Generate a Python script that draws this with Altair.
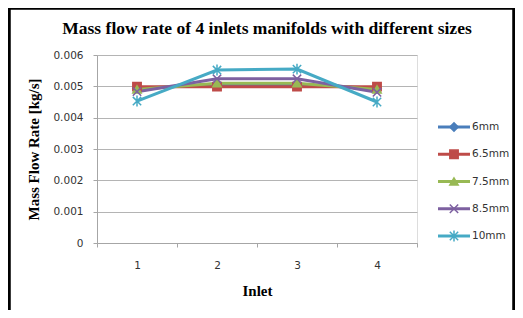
import altair as alt
import pandas as pd

# ---- data ----
series_names = ["6mm", "6.5mm", "7.5mm", "8.5mm", "10mm"]
inlets = [1, 2, 3, 4]
flow_6mm = [0.00494, 0.00505, 0.00505, 0.00494]
flow_6_5mm = [0.00499, 0.00499, 0.00499, 0.00499]
flow_7_5mm = [0.00490, 0.00510, 0.00510, 0.00490]
flow_8_5mm = [0.00483, 0.00524, 0.00524, 0.00481]
flow_10mm = [0.00453, 0.00552, 0.00555, 0.00450]
y_ticks = [0, 0.001, 0.002, 0.003, 0.004, 0.005, 0.006]
chart_title = "Mass flow rate of 4 inlets manifolds with different sizes"

colors = ["#4A7EBB", "#BE4B48", "#98B954", "#7D60A0", "#46AAC5"]
shapes = [
    "diamond",
    "square",
    "triangle-up",
    "M-1,-1L1,1M-1,1L1,-1",
    "M-1,-1L1,1M-1,1L1,-1M0,-1.3L0,1.3",
]

rows = []
for name, vals in zip(series_names, [flow_6mm, flow_6_5mm, flow_7_5mm, flow_8_5mm, flow_10mm]):
    for inlet, v in zip(inlets, vals):
        rows.append({"series": name, "inlet": inlet, "value": v})
df = pd.DataFrame(rows)
leg_df = pd.DataFrame({"series": series_names})
title_df = pd.DataFrame({"t": [chart_title]})

color_scale = alt.Scale(domain=series_names, range=colors)
shape_scale = alt.Scale(domain=series_names, range=shapes)

serif = "Liberation Serif"
sans = "DejaVu Sans"

x_enc = alt.X(
    "inlet:O",
    scale=alt.Scale(type="band", paddingInner=0, paddingOuter=0),
    axis=alt.Axis(
        title="Inlet", labelAngle=0, tickBand="extent", tickSize=4,
        tickColor="#A6A6A6", domainColor="#A6A6A6", grid=False,
        labelFont=sans, labelFontSize=10.5, labelColor="#333333", labelPadding=13,
        titleFont=serif, titleFontSize=15, titleFontWeight="bold", titleColor="#000000",
        titlePadding=13,
    ),
)
y_enc = alt.Y(
    "value:Q",
    scale=alt.Scale(domain=[0, 0.006], nice=False),
    axis=alt.Axis(
        title="Mass Flow Rate [kg/s]", values=y_ticks,
        labelExpr="datum.value == 0 ? '0' : format(datum.value, '.3f')",
        tickSize=4, tickColor="#A6A6A6", domainColor="#A6A6A6",
        gridColor="#B4B4B4", gridWidth=1,
        labelFont=sans, labelFontSize=10.5, labelColor="#333333", labelPadding=10,
        titleFont=serif, titleFontSize=15, titleFontWeight="bold", titleColor="#000000",
        titlePadding=11,
    ),
)

base = alt.Chart(df).encode(
    x=x_enc,
    y=y_enc,
    color=alt.Color("series:N", scale=color_scale, legend=None),
)
lines = base.mark_line(strokeWidth=3)
points = base.mark_point(filled=True, size=70, strokeWidth=1.5, opacity=1).encode(
    shape=alt.Shape("series:N", scale=shape_scale, legend=None),
    stroke=alt.Stroke("series:N", scale=color_scale, legend=None),
)
main = alt.layer(lines, points)

leg_y = alt.Y(
    "series:N",
    scale=alt.Scale(type="point", domain=series_names, range=[72, 181], padding=0),
    axis=None,
)
leg_color = alt.Color("series:N", scale=color_scale, legend=None)
leg_rule = alt.Chart(leg_df).mark_rule(strokeWidth=3).encode(
    x=alt.value(341), x2=alt.value(373), y=leg_y, color=leg_color
)
leg_pt = alt.Chart(leg_df).mark_point(filled=True, size=70, strokeWidth=1.5, opacity=1).encode(
    x=alt.value(357), y=leg_y, color=leg_color,
    shape=alt.Shape("series:N", scale=shape_scale, legend=None),
    stroke=alt.Stroke("series:N", scale=color_scale, legend=None),
)
leg_txt = alt.Chart(leg_df).mark_text(
    align="left", baseline="middle", font=sans, fontSize=10.5, color="#333333"
).encode(x=alt.value(375), y=leg_y, text="series:N")

title_mark = alt.Chart(title_df).mark_text(
    align="center", baseline="alphabetic", font=serif, fontSize=17.5,
    fontWeight="bold", color="#000000"
).encode(x=alt.value(170), y=alt.value(-21), text="t:N")

border = alt.Chart(leg_df).mark_rect(filled=False, stroke="#000000", strokeWidth=2.5).encode(
    x=alt.value(-88), x2=alt.value(417), y=alt.value(-47), y2=alt.value(280)
)

legend_layer = alt.layer(border, title_mark, leg_rule, leg_pt, leg_txt)

chart = (
    alt.layer(main, legend_layer)
    .resolve_scale(y="independent")
    .properties(
        width=320, height=188,
        autosize=alt.AutoSizeParams(type="none"),
        padding={"left": 89, "top": 47, "right": 98, "bottom": 67},
    )
    .configure_view(stroke="transparent")
    .configure(background="#FFFFFF")
)

chart.save("out.html", embed_options={"renderer": "svg", "actions": False})
